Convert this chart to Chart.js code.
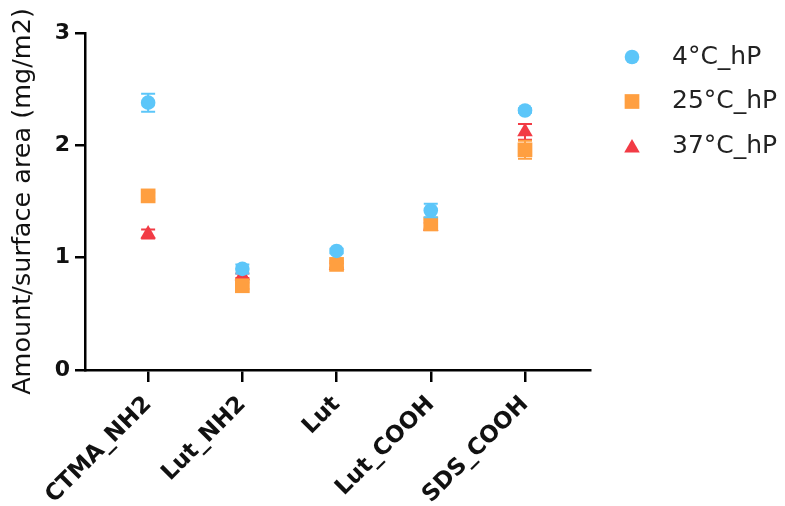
<!DOCTYPE html>
<html>
<head>
<meta charset="utf-8">
<script src="https://cdn.jsdelivr.net/npm/chart.js@4"></script>
<style>
  html, body { margin: 0; padding: 0; background: #fff; }
  #wrap { width: 785px; height: 506px; }
</style>
</head>
<body>
<div id="wrap"><canvas id="chart"></canvas></div>
<script>
// Values
const categories = ['CTMA_NH2', 'Lut_NH2', 'Lut', 'Lut_COOH', 'SDS_COOH'];
const seriesNames = ['4°C_hP', '25°C_hP', '37°C_hP'];
const mean4C = [2.38, 0.90, 1.06, 1.42, 2.31];
const err4C = [0.08, 0.04, 0.02, 0.06, 0.02];
const mean25C = [1.55, 0.75, 0.94, 1.30, 1.96];
const err25C = [0.03, 0.03, 0.03, 0.04, 0.08];
const mean37C = [1.21, 0.84, 0.93, 1.28, 2.12];
const err37C = [0.04, 0.02, 0.02, 0.03, 0.07];
const yTicks = [0, 1, 2, 3];

const FONT = "'DejaVu Sans', 'Liberation Sans', Arial, sans-serif";

function toPoints(values) {
    return values.map((v, i) => ({ x: i + 1, y: v }));
}

// error bars drawn just before each dataset so the layering follows the markers
const errorBars = {
    id: 'errorBars',
    beforeDatasetDraw(chart, args) {
        const ds = chart.data.datasets[args.index];
        const yScale = chart.scales.y;
        const ctx = chart.ctx;
        ctx.save();
        ctx.strokeStyle = ds.backgroundColor;
        ctx.lineWidth = 2;
        args.meta.data.forEach((pt, i) => {
            const e = ds.errors[i];
            const yTop = yScale.getPixelForValue(ds.data[i].y + e);
            const yBot = yScale.getPixelForValue(ds.data[i].y - e);
            const half = 7;
            ctx.beginPath();
            ctx.moveTo(pt.x, yTop); ctx.lineTo(pt.x, yBot);
            ctx.moveTo(pt.x - half, yTop); ctx.lineTo(pt.x + half, yTop);
            ctx.moveTo(pt.x - half, yBot); ctx.lineTo(pt.x + half, yBot);
            ctx.stroke();
        });
        ctx.restore();
    }
};

// simple legend to the right of the plot
const sideLegend = {
    id: 'sideLegend',
    afterDraw(chart) {
        const ctx = chart.ctx;
        const area = chart.chartArea;
        const markerX = area.right + 42;
        ctx.save();
        chart.data.datasets.forEach((ds, i) => {
            const y = area.top + 24 + i * 44.5;
            ctx.fillStyle = ds.backgroundColor;
            Chart.helpers.drawPoint(ctx, {
                pointStyle: ds.pointStyle,
                radius: ds.legendRadius,
                rotation: 0,
                borderWidth: 0
            }, markerX, ds.pointStyle === 'triangle' ? y + 2 : y);
            ctx.fillStyle = '#222';
            ctx.font = '25px ' + FONT;
            ctx.textBaseline = 'middle';
            ctx.textAlign = 'left';
            ctx.fillText(ds.label, markerX + 40, y);
        });
        ctx.restore();
    }
};

function makeDataset(label, values, errors, color, style, radius, legendRadius) {
    return {
        label: label,
        data: toPoints(values),
        errors: errors,
        backgroundColor: color,
        borderColor: color,
        pointStyle: style,
        pointRadius: radius,
        pointHoverRadius: radius,
        pointBorderWidth: 0,
        legendRadius: legendRadius,
        showLine: false
    };
}

const ctx = document.getElementById('chart').getContext('2d');
new Chart(ctx, {
    type: 'scatter',
    data: {
        datasets: [
            makeDataset(seriesNames[0], mean4C, err4C, '#5CC6F9', 'circle', 7.3, 7.3),
            makeDataset(seriesNames[1], mean25C, err25C, '#FF9F40', 'rect', 10.4, 10.4),
            makeDataset(seriesNames[2], mean37C, err37C, '#F23B45', 'triangle', 9, 9)
        ]
    },
    plugins: [errorBars, sideLegend],
    options: {
        responsive: true,
        maintainAspectRatio: false,
        animation: false,
        layout: { padding: { top: 33, right: 195, left: 0, bottom: 0 } },
        plugins: {
            legend: { display: false },
            tooltip: { enabled: false }
        },
        scales: {
            x: {
                type: 'linear',
                min: 0.33,
                max: 5.69,
                afterBuildTicks: scale => {
                    scale.ticks = categories.map((c, i) => ({ value: i + 1 }));
                },
                afterFit: scale => { scale.height = 136; },
                ticks: {
                    callback: v => categories[v - 1],
                    minRotation: 45,
                    maxRotation: 45,
                    autoSkip: false,
                    color: '#111',
                    padding: 9,
                    font: { family: FONT, size: 23, weight: 'bold' }
                },
                grid: {
                    drawOnChartArea: false,
                    drawTicks: true,
                    tickLength: 12,
                    color: '#000',
                    lineWidth: 2.5
                },
                border: { color: '#000', width: 2.5 }
            },
            y: {
                min: 0,
                max: 3,
                afterBuildTicks: scale => {
                    scale.ticks = yTicks.map(v => ({ value: v }));
                },
                afterFit: scale => { scale.width = 85; },
                ticks: {
                    color: '#111',
                    padding: 5,
                    font: { family: FONT, size: 22, weight: 'bold' }
                },
                grid: {
                    drawOnChartArea: false,
                    drawTicks: true,
                    tickLength: 10,
                    color: '#000',
                    lineWidth: 2.5
                },
                border: { color: '#000', width: 2.5 },
                title: {
                    display: true,
                    text: 'Amount/surface area (mg/m2)',
                    color: '#111',
                    padding: { top: 8, bottom: 0 },
                    font: { family: FONT, size: 25.5 }
                }
            }
        }
    }
});
</script>
</body>
</html>
